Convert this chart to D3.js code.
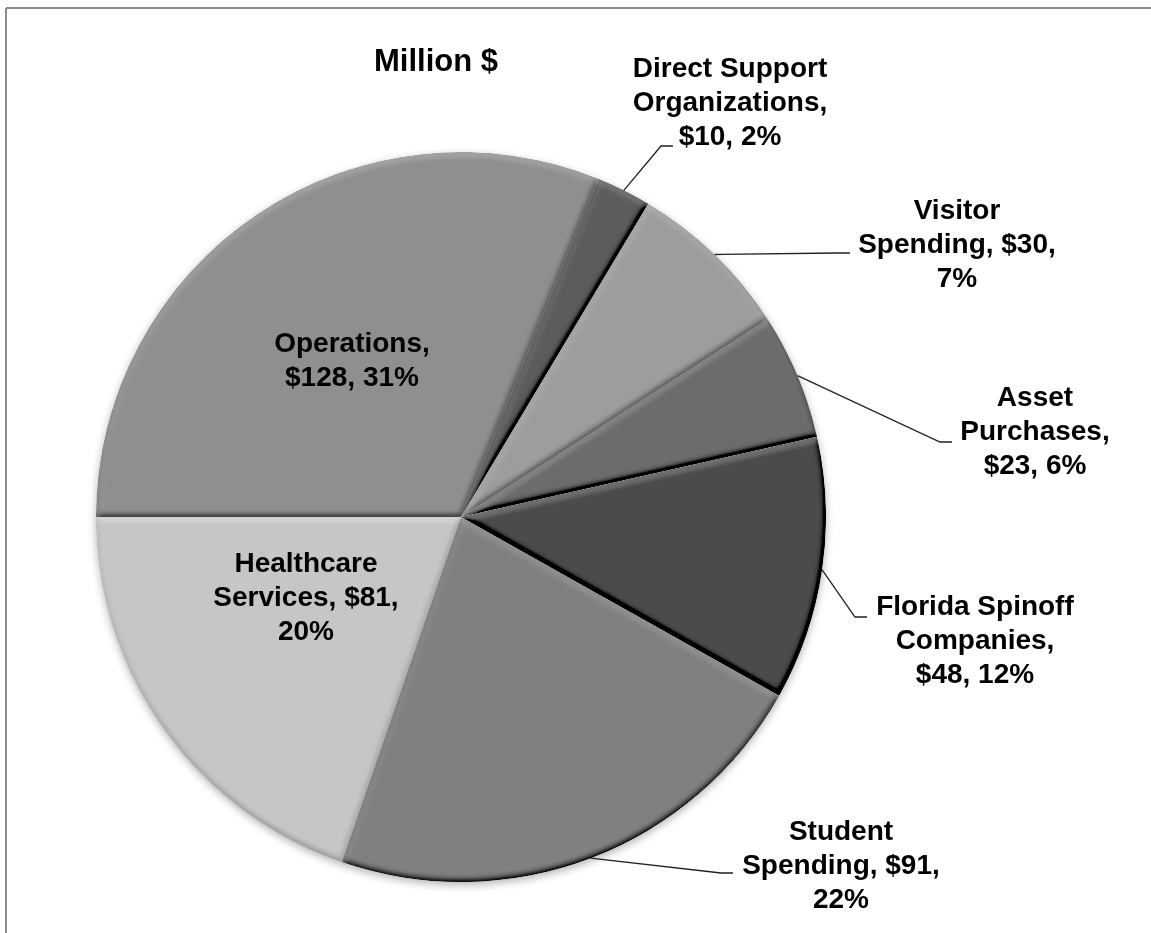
<!DOCTYPE html>
<html><head><meta charset="utf-8">
<script src="https://cdn.jsdelivr.net/npm/d3@7"></script>
<style>body{margin:0;background:#fff}svg{display:block}</style>
</head><body>
<script>
// Economic impact components, million dollars
const categories = ["Operations", "Direct Support Organizations", "Visitor Spending", "Asset Purchases",
  "Florida Spinoff Companies", "Student Spending", "Healthcare Services"];
const values = [128, 10, 30, 23, 48, 91, 81];
const sliceColors = ["#8f8f8f", "#5b5b5b", "#9d9d9d", "#6b6b6b", "#4a4a4a", "#808080", "#c6c6c6"];
// words per wrapped line of each data label
const wrapCounts = [[1, 2], [2, 1, 2], [1, 2, 1], [1, 1, 2], [2, 1, 2], [1, 2, 1], [1, 2, 1]];
// label placement: centre x, first baseline, optional leader start
const labelLayout = [
  {x: 352, y: 352},
  {x: 730, y: 77, lx: 673, ly: 146},
  {x: 957, y: 219, lx: 850, ly: 253},
  {x: 1035, y: 406, lx: 952, ly: 442},
  {x: 975, y: 615, lx: 867, ly: 617},
  {x: 841, y: 840, lx: 733, ly: 873},
  {x: 306, y: 572}
];
const title = "Million $";

const W = 1151, H = 933;
const cx = 461, cy = 517, R = 365;
const font = "'Liberation Sans', Arial, sans-serif";
const fontSize = 28, lineH = 34;

const svg = d3.select("body").append("svg").attr("width", W).attr("height", H);
const defs = svg.append("defs");

// soft bevel on each slice
const elev = 55;
const bevel = defs.append("filter").attr("id", "bevel")
  .attr("x", "-5%").attr("y", "-5%").attr("width", "110%").attr("height", "110%");
bevel.append("feGaussianBlur").attr("in", "SourceAlpha").attr("stdDeviation", 3).attr("result", "blur");
bevel.append("feDiffuseLighting").attr("in", "blur").attr("surfaceScale", 3)
  .attr("diffuseConstant", 1).attr("lighting-color", "#fff").attr("result", "light")
  .append("feDistantLight").attr("azimuth", 260).attr("elevation", elev);
bevel.append("feComposite").attr("in", "SourceGraphic").attr("in2", "light")
  .attr("operator", "arithmetic").attr("k1", 0).attr("k2", 1).attr("k3", 0.45)
  .attr("k4", -0.45 * Math.sin(elev * Math.PI / 180))
  .attr("result", "lit");
bevel.append("feComposite").attr("in", "lit").attr("in2", "SourceAlpha").attr("operator", "in");

// drop shadow under the pie
const shadow = defs.append("filter").attr("id", "shadow")
  .attr("x", "-10%").attr("y", "-10%").attr("width", "120%").attr("height", "125%");
shadow.append("feGaussianBlur").attr("in", "SourceAlpha").attr("stdDeviation", 4).attr("result", "b");
shadow.append("feOffset").attr("in", "b").attr("dy", 3).attr("result", "o");
shadow.append("feComponentTransfer").attr("in", "o").attr("result", "s")
  .append("feFuncA").attr("type", "linear").attr("slope", 0.3);
const m = shadow.append("feMerge");
m.append("feMergeNode").attr("in", "s");
m.append("feMergeNode").attr("in", "SourceGraphic");

// frame
svg.append("line").attr("x1", 6).attr("y1", 8).attr("x2", W).attr("y2", 8)
  .attr("stroke", "#8c8c8c").attr("stroke-width", 2);
svg.append("line").attr("x1", 6).attr("y1", 8).attr("x2", 6).attr("y2", H)
  .attr("stroke", "#8c8c8c").attr("stroke-width", 2);

const total = d3.sum(values);
const pie = d3.pie().sort(null).value(d => d)
  .startAngle(-Math.PI / 2).endAngle(1.5 * Math.PI);
const arcs = pie(values);
const arc = d3.arc().innerRadius(0).outerRadius(R);
const edge = d3.arc().innerRadius(R).outerRadius(R);

const g = svg.append("g").attr("transform", `translate(${cx},${cy})`);
const pieG = g.append("g").attr("filter", "url(#shadow)");
pieG.selectAll("path").data(arcs).join("path")
  .attr("d", arc)
  .attr("fill", (d, i) => sliceColors[i])
  .attr("filter", "url(#bevel)");

// leader lines
arcs.forEach((d, i) => {
  const L = labelLayout[i];
  if (L.lx === undefined) return;
  const [ex, ey] = edge.centroid(d);
  const stub = 12;
  const pts = [[L.lx, L.ly], [L.lx - stub, L.ly], [cx + ex, cy + ey]];
  svg.append("path").attr("d", d3.line()(pts))
    .attr("fill", "none").attr("stroke", "#222").attr("stroke-width", 1.3);
});

// data labels
const fmtPct = v => Math.round(v / total * 100) + "%";
arcs.forEach((d, i) => {
  const words = `${categories[i]}, $${values[i]}, ${fmtPct(values[i])}`.split(" ");
  const lines = [];
  let k = 0;
  wrapCounts[i].forEach(n => { lines.push(words.slice(k, k + n).join(" ")); k += n; });
  const L = labelLayout[i];
  const t = svg.append("text").attr("text-anchor", "middle")
    .attr("font-family", font).attr("font-weight", "bold").attr("font-size", fontSize).attr("fill", "#000");
  lines.forEach((s, j) => t.append("tspan").attr("x", L.x).attr("y", L.y + j * lineH).text(s));
});

svg.append("text").attr("x", 436).attr("y", 71).attr("text-anchor", "middle")
  .attr("font-family", font).attr("font-weight", "bold").attr("font-size", 31)
  .text(title);
</script>
</body></html>
